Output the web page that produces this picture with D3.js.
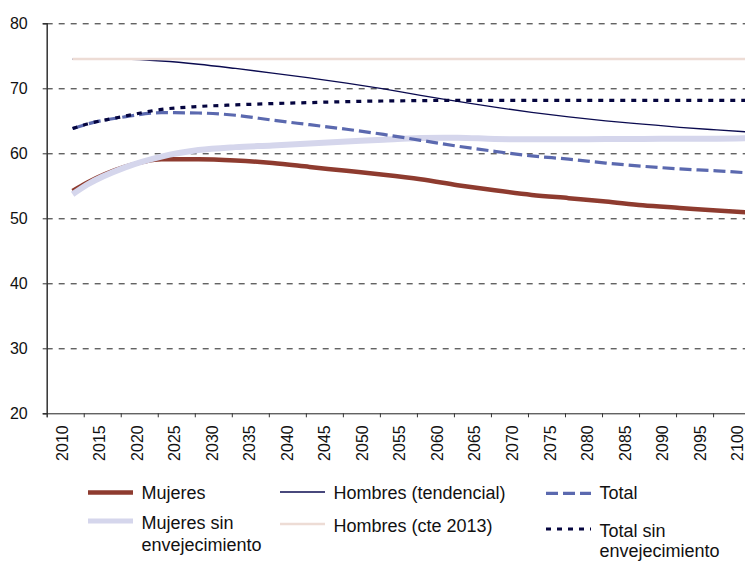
<!DOCTYPE html>
<html lang="es"><head><meta charset="utf-8">
<title>Esperanza de vida</title>
<script src="https://cdn.jsdelivr.net/npm/d3@7"></script>
<style>
  body { margin: 0; background: #fff; }
  text { font-family: "Liberation Sans", Arial, sans-serif; fill: #111; }
</style>
</head>
<body>
<script>
// years with a reading (points sit in the middle of each yearly category)
var years = [2013, 2015, 2020, 2025, 2030, 2035, 2040, 2045, 2050, 2055, 2060,
             2065, 2070, 2075, 2080, 2085, 2090, 2095, 2100, 2104];

var mujeres      = [54.2, 55.5, 57.9, 59.1, 59.1, 58.9, 58.5, 57.9, 57.3, 56.7, 56.0,
                    55.1, 54.3, 53.6, 53.1, 52.6, 52.0, 51.6, 51.2, 50.9];
var mujeresSin   = [53.7, 55.2, 57.8, 59.5, 60.5, 60.95, 61.2, 61.5, 61.8, 62.1, 62.35,
                    62.4, 62.2, 62.15, 62.15, 62.2, 62.2, 62.25, 62.25, 62.3];
var hombresTend  = [74.5, 74.55, 74.5, 74.2, 73.7, 73.05, 72.35, 71.6, 70.8, 69.9, 68.9,
                    68.0, 67.1, 66.3, 65.6, 65.0, 64.5, 64.0, 63.6, 63.3];
var hombresCte   = [74.5, 74.5, 74.5, 74.5, 74.5, 74.5, 74.5, 74.5, 74.5, 74.5, 74.5,
                    74.5, 74.5, 74.5, 74.5, 74.5, 74.5, 74.5, 74.5, 74.5];
var total        = [63.8, 64.5, 65.6, 66.25, 66.2, 65.85, 65.1, 64.4, 63.7, 62.9, 62.0,
                    61.1, 60.3, 59.6, 59.1, 58.5, 58.0, 57.6, 57.3, 57.0];
var totalSin     = [63.8, 64.5, 65.7, 66.75, 67.2, 67.45, 67.65, 67.8, 67.95, 68.05, 68.1,
                    68.15, 68.15, 68.15, 68.15, 68.15, 68.15, 68.15, 68.15, 68.15];

var yTicks = [20, 30, 40, 50, 60, 70, 80];
var xLabels = [2010, 2015, 2020, 2025, 2030, 2035, 2040, 2045, 2050, 2055,
               2060, 2065, 2070, 2075, 2080, 2085, 2090, 2095, 2100];

var w = 745, h = 563;
var plotLeft = 46.7, plotTop = 23.3, plotBottom = 413.3, plotRight = 750.1;

var svg = d3.select("body").append("svg")
    .attr("width", w).attr("height", h);

var x = d3.scaleLinear().domain([2010, 2105]).range([plotLeft, plotRight]);
var xl = d3.scaleLinear().domain([2010, 2100]).range([61.7, 737]);
var y = d3.scaleLinear().domain([20, 80]).range([plotBottom, plotTop]);

// gridlines
var grid = svg.append("g")
    .attr("transform", "translate(" + plotLeft + ",0)")
    .call(d3.axisLeft(y).tickValues(yTicks.slice(1)).tickSize(-(plotRight - plotLeft)).tickFormat(""));
grid.select(".domain").remove();
grid.selectAll("line")
    .attr("stroke", "#222")
    .attr("stroke-dasharray", "6,6");

// y axis
var yAxis = svg.append("g")
    .attr("transform", "translate(" + plotLeft + ",0)")
    .call(d3.axisLeft(y).tickValues(yTicks).tickSize(4).tickPadding(15));
yAxis.attr("font-family", null);
yAxis.select(".domain").attr("stroke", "#333").attr("stroke-width", 1.5);
yAxis.selectAll("line").attr("stroke", "#333");
yAxis.selectAll("text").attr("font-size", "16px").attr("fill", "#111");

// x axis ticks
var xAxis = svg.append("g")
    .attr("transform", "translate(0," + plotBottom + ")")
    .call(d3.axisBottom(x).tickValues(xLabels).tickSize(4).tickFormat(""));
xAxis.select(".domain").attr("stroke", "#222");
xAxis.selectAll("line").attr("stroke", "#333");

// x labels (rotated)
var xLab = svg.append("g")
    .attr("transform", "translate(0," + plotBottom + ")")
    .call(d3.axisBottom(xl).tickValues(xLabels).tickSize(0).tickFormat(d3.format("d")));
xLab.select(".domain").remove();
xLab.attr("font-family", null);
xLab.selectAll("text")
    .attr("font-size", "16px")
    .attr("fill", "#111")
    .attr("transform", "rotate(-90)")
    .attr("x", -12)
    .attr("y", 0)
    .attr("dy", "0.35em")
    .attr("text-anchor", "end");

var series = [
  {name: "Mujeres", values: mujeres, color: "#8E3B2F", width: 4.5, dash: null},
  {name: "Mujeres sin envejecimiento", values: mujeresSin, color: "#D5D6EC", width: 6, dash: null},
  {name: "Hombres (tendencial)", values: hombresTend, color: "#0B0B50", width: 1.3, dash: null},
  {name: "Hombres (cte 2013)", values: hombresCte, color: "#EDDCD5", width: 2.6, dash: null},
  {name: "Total", values: total, color: "#5B69AF", width: 3.2, dash: "12,5"},
  {name: "Total sin envejecimiento", values: totalSin, color: "#05053F", width: 3.2, dash: "5,6"}
];

var line = d3.line()
    .x(function(d, i) { return x(years[i] + 0.5); })
    .y(function(d) { return y(d); })
    .curve(d3.curveMonotoneX);

var plot = svg.append("g");
plot.selectAll("path")
    .data(series)
    .enter()
    .append("path")
    .attr("d", function(d) { return line(d.values); })
    .attr("fill", "none")
    .attr("stroke", function(d) { return d.color; })
    .attr("stroke-width", function(d) { return d.width; })
    .attr("stroke-dasharray", function(d) { return d.dash; });

// legend
var legendPos = [
  {x: 88, lineY: 492.5, textY: [499.3], lines: ["Mujeres"]},
  {x: 88, lineY: 521, textY: [529.3, 550.8], lines: ["Mujeres sin", "envejecimiento"]},
  {x: 280, lineY: 492, textY: [499.3], lines: ["Hombres (tendencial)"]},
  {x: 280, lineY: 524, textY: [532], lines: ["Hombres (cte 2013)"]},
  {x: 546, lineY: 493.3, textY: [499.3], lines: ["Total"]},
  {x: 546, lineY: 529, textY: [536.7, 557], lines: ["Total sin", "envejecimiento"]}
];

var leg = svg.append("g").selectAll("g")
    .data(series)
    .enter()
    .append("g");

leg.append("line")
    .attr("x1", function(d, i) { return legendPos[i].x; })
    .attr("x2", function(d, i) { return legendPos[i].x + 45; })
    .attr("y1", function(d, i) { return legendPos[i].lineY; })
    .attr("y2", function(d, i) { return legendPos[i].lineY; })
    .attr("stroke", function(d) { return d.color; })
    .attr("stroke-width", function(d) { return Math.min(d.width, 5); })
    .attr("stroke-dasharray", function(d) { return d.dash; });

leg.each(function(d, i) {
  var p = legendPos[i];
  var g = d3.select(this);
  p.lines.forEach(function(t, j) {
    g.append("text")
      .attr("x", p.x + 53.5)
      .attr("y", p.textY[j])
      .attr("font-size", "18px")
      .text(t);
  });
});
</script>
</body>
</html>
